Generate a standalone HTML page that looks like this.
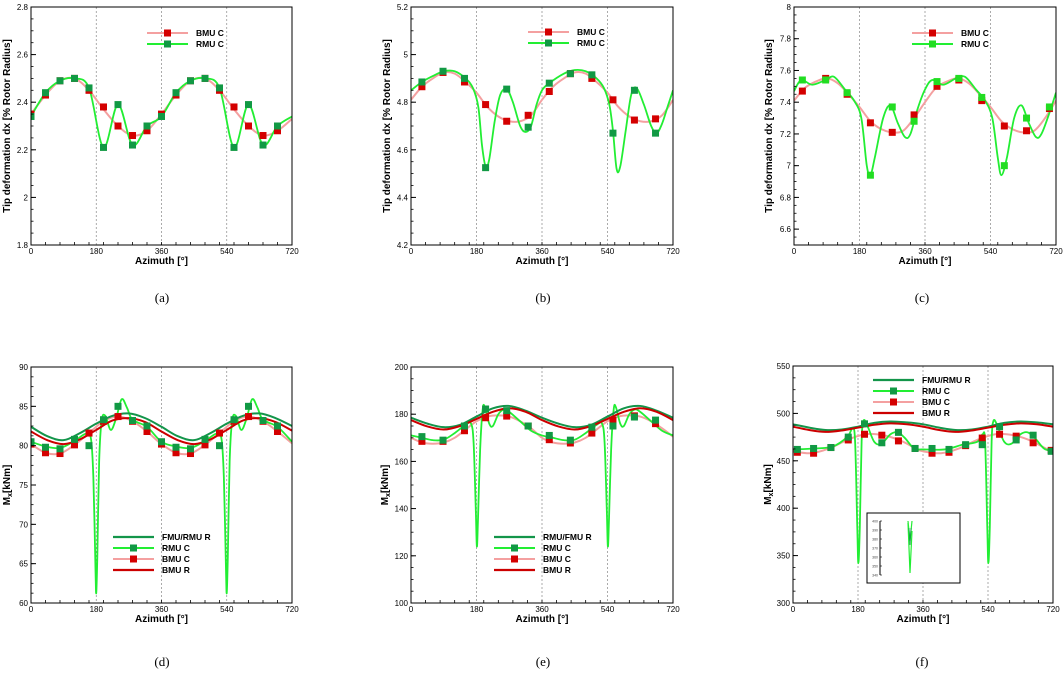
<!DOCTYPE html>
<html><head><meta charset="utf-8"><style>
html,body{margin:0;padding:0;background:#fff;}
svg{display:block;font-family:"Liberation Sans",Arial,sans-serif;}
.tk{font-size:8px;fill:#000;}
.ttl{font-size:10px;font-weight:bold;fill:#000;}
.lg{font-size:8.5px;font-weight:bold;fill:#000;}
.cap{font-family:"Liberation Serif",serif;font-size:13px;fill:#000;}
</style></head><body>
<svg id="fig" width="1063" height="673" viewBox="0 0 1063 673" xmlns="http://www.w3.org/2000/svg"></svg>
<script>
// ---------- data ----------
// (a)
const aBmuMkAz=[0,40,80,120,160,200,240,280,320,360,400,440,480,520,560,600,640,680];
const aBmuMk=[2.35,2.43,2.49,2.50,2.45,2.38,2.30,2.26,2.28,2.35,2.43,2.49,2.50,2.45,2.38,2.30,2.26,2.28];
const aRmuMk=[2.34,2.44,2.49,2.50,2.46,2.21,2.39,2.22,2.30,2.34,2.44,2.49,2.50,2.46,2.21,2.39,2.22,2.30];
const aLineAz=[0,40,80,120,160,200,240,280,320,360,400,440,480,520,560,600,640,680,720];
const aBmuLine=[2.35,2.43,2.49,2.50,2.45,2.37,2.30,2.26,2.28,2.35,2.43,2.49,2.50,2.45,2.37,2.30,2.26,2.28,2.33];
const aRmuLine=[2.34,2.44,2.49,2.50,2.46,2.21,2.39,2.22,2.30,2.34,2.44,2.49,2.50,2.46,2.21,2.39,2.22,2.30,2.34];
// (b)
const bMkAz=[30,88,147,205,263,322,380,438,497,555,614,672];
const bBmuMk=[4.865,4.925,4.885,4.79,4.72,4.745,4.845,4.92,4.90,4.81,4.725,4.73];
const bRmuMk=[4.885,4.93,4.90,4.525,4.855,4.695,4.88,4.92,4.915,4.67,4.85,4.67];
const bBmuAz=[0,30,60,90,120,150,180,210,240,270,300,330,360,390,420,450,480,510,540,570,600,630,660,690,720];
const bBmuLine=[4.81,4.865,4.90,4.925,4.92,4.885,4.84,4.78,4.74,4.72,4.72,4.745,4.81,4.865,4.90,4.925,4.92,4.885,4.84,4.78,4.74,4.72,4.72,4.745,4.81];
const bRmuAz=[0,30,60,90,120,150,170,185,195,205,215,230,245,263,280,300,315,330,345,360,380,420,450,480,510,530,545,555,565,575,590,605,620,640,660,675,690,705,720];
const bRmuLine=[4.85,4.885,4.91,4.93,4.93,4.90,4.86,4.78,4.62,4.53,4.56,4.72,4.83,4.855,4.80,4.70,4.675,4.70,4.79,4.85,4.88,4.92,4.935,4.93,4.90,4.86,4.79,4.68,4.52,4.53,4.68,4.83,4.86,4.79,4.70,4.67,4.71,4.78,4.85];
// (c)
const cMkAz=[23,87,146,210,270,330,393,453,516,578,639,702];
const cBmuMk=[7.47,7.55,7.45,7.27,7.21,7.32,7.50,7.54,7.41,7.25,7.22,7.36];
const cRmuMk=[7.54,7.54,7.46,6.94,7.37,7.28,7.53,7.55,7.43,7.00,7.30,7.37];
const cBmuAz=[0,30,60,90,120,150,180,210,240,270,300,330,360,390,420,450,480,510,540,570,600,630,660,690,720];
const cBmuLine=[7.41,7.49,7.53,7.55,7.52,7.45,7.37,7.28,7.23,7.21,7.22,7.30,7.40,7.49,7.53,7.55,7.52,7.45,7.37,7.28,7.23,7.21,7.22,7.30,7.41];
const cRmuAz=[0,20,50,87,110,140,165,185,200,210,222,245,265,285,305,320,340,360,380,410,445,470,500,525,545,560,570,585,605,625,645,665,680,700,720];
const cRmuLine=[7.47,7.54,7.51,7.54,7.56,7.48,7.41,7.30,7.00,6.94,7.05,7.30,7.38,7.27,7.18,7.20,7.36,7.48,7.54,7.51,7.55,7.56,7.48,7.41,7.30,7.05,6.94,7.05,7.30,7.38,7.27,7.18,7.20,7.32,7.46];
// (d)
const dMkAz=[0,40,80,120,160,200,240,280,320,360,400,440,480,520,560,600,640,680];
const dBmuMk=[80.2,79.1,79.0,80.1,81.6,83.1,83.7,83.1,81.8,80.2,79.1,79.0,80.1,81.6,83.1,83.7,83.1,81.8];
const dRmuMk=[80.5,79.8,79.6,80.8,80.0,83.3,85.0,83.2,82.5,80.5,79.8,79.6,80.8,80.0,83.3,85.0,83.2,82.5];
const dRAz=[0,45,90,135,180,225,270,315,360,405,450,495,540,585,630,675,720];
const dFmuR=[82.4,81.2,80.7,81.6,82.8,83.8,84.1,83.5,82.4,81.2,80.7,81.6,82.8,83.8,84.1,83.5,82.5];
const dBmuR=[81.8,80.7,80.2,80.8,82.0,83.2,83.5,83.0,81.8,80.7,80.2,80.8,82.0,83.2,83.5,83.0,81.9];
const dBmuAz=[0,40,80,120,160,200,240,280,320,360,400,440,480,520,560,600,640,680,720];
const dBmuLine=[80.2,79.1,79.0,80.1,81.6,83.1,83.7,83.1,81.8,80.2,79.1,79.0,80.1,81.6,83.1,83.7,83.1,81.8,80.3];
const dRmuAz=[0,40,80,120,150,165,172,178,180,183,188,195,205,220,235,250,265,280,320,360,400,440,480,510,525,532,538,540,543,548,555,565,580,595,610,625,640,680,720];
const dRmuLine=[80.5,79.9,79.7,80.6,81.5,81.0,76,64,61.3,66,78,83.2,83.8,82.0,83.5,85.9,84.8,83.3,82.4,80.5,79.9,79.7,80.6,81.5,81.0,76,64,61.3,66,78,83.2,83.8,82.0,83.5,85.9,84.8,83.3,82.4,80.5];
// (e)
const eMkAz=[30,88,147,205,263,322,380,438,497,555,614,672];
const eBmuMk=[168.5,168.5,173,178.5,179.2,175,169.2,167.8,172,177.5,179.3,176];
const eRmuMk=[170.5,169,175,182.2,181.5,175,171,169,174.5,175,178.8,177.5];
const eRAz=[0,45,90,135,180,225,270,315,360,405,450,495,540,585,630,675,720];
const eFmuR=[178.5,176,174.5,175.5,179,182.5,183.5,181.5,178.5,176,174.5,175.5,179,182.5,183.5,181.5,178.5];
const eBmuR=[177.5,174.8,173.5,175,178,181,182.5,181,177.5,174.8,173.5,175,178,181,182.5,181,177.5];
const eBmuAz=[0,30,60,90,120,150,180,210,240,270,300,330,360,390,420,450,480,510,540,570,600,630,660,690,720];
const eBmuLine=[170,168,167.5,168,170,173.5,177,179,179.5,179,177,174,170,168,167.5,168,170,173.5,177,179,179.5,179,177,174,170.5];
const eRmuAz=[0,30,60,90,120,150,165,172,178,181,184,190,197,203,215,225,240,255,270,300,330,360,390,420,450,480,510,525,532,538,541,544,550,557,563,575,585,600,615,630,660,690,720];
const eRmuLine=[171,170,169,169.2,172,175.5,176,168,140,124,135,165,182,183,176,175,180,182,181,177,173,171,170,169,169.2,172,175.5,176,168,140,124,135,165,182,183,176,175,180,182,181,177,173,171];
// (f)
const fMkAz=[12,57,105,153,198,246,292,338,385,432,478,524,572,618,665,715];
const fBmuMk=[459,458,464,472,478,477,471,463,458,459,466,474,478,476,469,461];
const fRmuMk=[462,463,464,475,489,469,480,463,463,462,467,467,486,472,477,460];
const fRAz=[0,45,90,135,180,225,270,315,360,405,450,495,540,585,630,675,720];
const fFmuR=[488.5,485,482.5,483,486,490,491.5,490.5,488.5,485,482.5,483,486,490,491.5,490.5,488.5];
const fBmuR=[486,482.5,480.5,482,485,488,489.5,488.5,486,482.5,480.5,482,485,488,489.5,488.5,486];
const fBmuAz=[0,50,100,150,200,250,300,340,360,410,460,510,560,610,660,700,720];
const fBmuLine=[460,458,463,472,478,477,471,463,460,458,463,472,478,477,471,463,460];
const fRmuAz=[0,60,110,150,165,172,178,181,185,190,195,205,225,245,270,290,310,335,360,420,470,510,525,532,538,541,545,550,555,565,585,605,630,650,670,695,720];
const fRmuLine=[462,463,465,475,484,470,380,342,380,470,492,488,470,468,478,480,474,463,462,462,467,470,478,470,380,342,380,470,492,488,470,468,478,480,474,463,460];

// ---------- drawing ----------
const NS="http://www.w3.org/2000/svg";
const svg=document.getElementById('fig');
function mk(tag,attrs,parent){const e=document.createElementNS(NS,tag);for(const k in attrs)e.setAttribute(k,attrs[k]);(parent||svg).appendChild(e);return e;}
function smoothPath(pts){
  let d='M'+pts[0][0].toFixed(2)+','+pts[0][1].toFixed(2);
  for(let i=0;i<pts.length-1;i++){
    const p0=pts[Math.max(0,i-1)],p1=pts[i],p2=pts[i+1],p3=pts[Math.min(pts.length-1,i+2)];
    const c1x=p1[0]+(p2[0]-p0[0])/6,c1y=p1[1]+(p2[1]-p0[1])/6;
    const c2x=p2[0]-(p3[0]-p1[0])/6,c2y=p2[1]-(p3[1]-p1[1])/6;
    d+=' C'+c1x.toFixed(2)+','+c1y.toFixed(2)+' '+c2x.toFixed(2)+','+c2y.toFixed(2)+' '+p2[0].toFixed(2)+','+p2[1].toFixed(2);
  }
  return d;
}
const COL={bmuC:'#f4a0a0',bmuMk:'#d40000',rmuC:'#22ee33',rmuMk:'#119944',fmuR:'#13954a',bmuR:'#cc0000'};

function panel(P){
  const g=mk('g',{});
  
  
  const X=a=>P.x0+(a/720)*(P.x1-P.x0);
  const Y=v=>P.y1-(v-P.ymin)/(P.ymax-P.ymin)*(P.y1-P.y0);
  [180,360,540].forEach(a=>{
    const l=mk('line',{x1:X(a),x2:X(a),y1:P.y0,y2:P.y1,stroke:'#888','stroke-width':0.7,'stroke-dasharray':'2,2'},g);
    
    
  });
  const clip='clip-'+P.name;
  const cp=mk('clipPath',{id:clip},g);mk('rect',{x:P.x0,y:P.y0,width:P.x1-P.x0,height:P.y1-P.y0},cp);
  const sg=mk('g',{'clip-path':'url(#'+clip+')'},g);
  P.series.forEach(s=>{
    const p=mk('path',{d:smoothPath(s.az.map((a,i)=>[X(a),Y(s.v[i])])),fill:'none',stroke:s.color,'stroke-width':s.w,'stroke-linejoin':'round'},sg);
    
    
  });
  P.series.forEach(s=>{
    if(s.mkAz){
      s.mkAz.forEach((a,i)=>{
        const r=mk('rect',{x:X(a)-3.5,y:Y(s.mk[i])-3.5,width:7,height:7,fill:s.mkColor},sg);
        
        
      });
    }
  });
  const fr=mk('rect',{x:P.x0,y:P.y0,width:P.x1-P.x0,height:P.y1-P.y0,fill:'none',stroke:'#000','stroke-width':1},g);
  
  
  for(let a=0;a<=720;a+=40){mk('line',{x1:X(a),x2:X(a),y1:P.y1,y2:P.y1-3,stroke:'#000','stroke-width':0.8},g);}
  [0,180,360,540,720].forEach(a=>{
    const t=mk('text',{x:X(a),y:P.y1+9,'text-anchor':'middle',class:'tk'},g);t.textContent=a;
    
    
  });
  P.yticks.forEach((v,i)=>{
    mk('line',{x1:P.x0,x2:P.x0+5,y1:Y(v),y2:Y(v),stroke:'#000','stroke-width':1},g);
    const t=mk('text',{x:P.x0-3,y:Y(v)+3,'text-anchor':'end',class:'tk'},g);t.textContent=P.ylabels[i];
    
    
  });
  const step=(P.yticks[1]-P.yticks[0])/4;
  for(let v=P.ymin;v<=P.ymax+1e-9;v+=step){mk('line',{x1:P.x0,x2:P.x0+2.5,y1:Y(v),y2:Y(v),stroke:'#000','stroke-width':0.8},g);}
  const xt=mk('text',{x:(P.x0+P.x1)/2,y:P.y1+19,'text-anchor':'middle',class:'ttl'},g);
  xt.textContent='Azimuth [°]';
  
  
  const cy=(P.y0+P.y1)/2;
  const yt=mk('text',{x:P.ytx,y:cy,'text-anchor':'middle',class:'ttl',transform:'rotate(-90 '+P.ytx+' '+cy+')'},g);
  if(P.mx){yt.innerHTML='M<tspan dy="2" font-size="7">x</tspan><tspan dy="-2">[kNm]</tspan>';}
  else yt.textContent='Tip deformation dx [% Rotor Radius]';
  
  
  P.legend.forEach((e,i)=>{
    const ly=P.leg.y+i*P.leg.dy;
    const lg=mk('g',{},g);
    
    
    mk('line',{x1:P.leg.x,x2:P.leg.x+41,y1:ly,y2:ly,stroke:e.color,'stroke-width':e.w},lg);
    if(e.mk) mk('rect',{x:P.leg.x+17,y:ly-3.5,width:7,height:7,fill:e.mk},lg);
    const t=mk('text',{x:P.leg.x+49,y:ly+3,class:'lg'},lg);t.textContent=e.label;
  });
  const c=mk('text',{x:P.cap[0],y:P.cap[1],'text-anchor':'middle',class:'cap'},g);
  c.textContent=P.capText;
  
  
  if(P.inset){
    const ig=mk('g',{},g);
    
    
    mk('rect',{x:867,y:513,width:93,height:70,fill:'#fff',stroke:'#000','stroke-width':1},ig);
    mk('line',{x1:880,x2:880,y1:521,y2:575,stroke:'#000','stroke-width':1},ig);
    ['400','390','380','370','360','350','340'].forEach((s,i)=>{
      const yy=521+i*9;mk('line',{x1:880,x2:882,y1:yy,y2:yy,stroke:'#000','stroke-width':0.6},ig);
      const t=mk('text',{x:878,y:yy+1.5,'text-anchor':'end','font-size':'3.5',fill:'#444'},ig);t.textContent=s;
    });
    mk('path',{d:'M908,521 L910,541 L912,521 M908,523 L910,573 L912,531',fill:'none',stroke:COL.rmuC,'stroke-width':1.2},ig);
    mk('path',{d:'M909,528 L910,545 L911,528',fill:'none',stroke:COL.fmuR,'stroke-width':0.8},ig);
  }
}
const legTip=[{label:'BMU C',color:COL.bmuC,w:2,mk:COL.bmuMk},{label:'RMU C',color:COL.rmuC,w:2,mk:COL.rmuMk}];
const legTipC=[{label:'BMU C',color:COL.bmuC,w:2,mk:COL.bmuMk},{label:'RMU C',color:COL.rmuC,w:2,mk:'#22dd22'}];
function legM(first){return[{label:first,color:COL.fmuR,w:2.2},{label:'RMU C',color:COL.rmuC,w:2,mk:COL.rmuMk},{label:'BMU C',color:COL.bmuC,w:2,mk:COL.bmuMk},{label:'BMU R',color:COL.bmuR,w:2.2}];}
function tipSeries(bAz,bL,rAz,rL,mAzB,bMk,mAzR,rMk,rmkCol){
  return [{id:'bmu-c',az:bAz,v:bL,color:COL.bmuC,w:2,mkAz:mAzB,mk:bMk,mkColor:COL.bmuMk},
          {id:'rmu-c',az:rAz,v:rL,color:COL.rmuC,w:1.8,mkAz:mAzR,mk:rMk,mkColor:rmkCol||COL.rmuMk}];
}
function mSeries(rAz,fR,bR,bAz,bL,rcAz,rcL,mAzB,bMk,mAzR,rMk){
  return [{id:'bmu-c',az:bAz,v:bL,color:COL.bmuC,w:2,mkAz:mAzB,mk:bMk,mkColor:COL.bmuMk},
          {id:'rmu-c',az:rcAz,v:rcL,color:COL.rmuC,w:1.8,mkAz:mAzR,mk:rMk,mkColor:COL.rmuMk},
          {id:'fmu-rmu-r',az:rAz,v:fR,color:COL.fmuR,w:2},
          {id:'bmu-r',az:rAz,v:bR,color:COL.bmuR,w:2}];
}
panel({name:'panel-a',x0:31,x1:292,y0:7,y1:245,ymin:1.8,ymax:2.8,yticks:[1.8,2,2.2,2.4,2.6,2.8],ylabels:['1.8','2','2.2','2.4','2.6','2.8'],ytx:10,
  series:tipSeries(aLineAz,aBmuLine,aLineAz,aRmuLine,aBmuMkAz,aBmuMk,aBmuMkAz,aRmuMk),legend:legTip,leg:{x:147,y:33,dy:11},cap:[162,302],capText:'(a)'});
panel({name:'panel-b',x0:411,x1:673,y0:7,y1:245,ymin:4.2,ymax:5.2,yticks:[4.2,4.4,4.6,4.8,5,5.2],ylabels:['4.2','4.4','4.6','4.8','5','5.2'],ytx:390,
  series:tipSeries(bBmuAz,bBmuLine,bRmuAz,bRmuLine,bMkAz,bBmuMk,bMkAz,bRmuMk),legend:legTip,leg:{x:528,y:32,dy:11},cap:[543,302],capText:'(b)'});
panel({name:'panel-c',x0:794,x1:1056,y0:7,y1:245,ymin:6.5,ymax:8,yticks:[6.6,6.8,7,7.2,7.4,7.6,7.8,8],ylabels:['6.6','6.8','7','7.2','7.4','7.6','7.8','8'],ytx:772,
  series:tipSeries(cBmuAz,cBmuLine,cRmuAz,cRmuLine,cMkAz,cBmuMk,cMkAz,cRmuMk,'#22dd22'),legend:legTipC,leg:{x:912,y:33,dy:11},cap:[922,302],capText:'(c)'});
panel({name:'panel-d',x0:31,x1:292,y0:367,y1:603,ymin:60,ymax:90,yticks:[60,65,70,75,80,85,90],ylabels:['60','65','70','75','80','85','90'],ytx:10,mx:true,
  series:mSeries(dRAz,dFmuR,dBmuR,dBmuAz,dBmuLine,dRmuAz,dRmuLine,dMkAz,dBmuMk,dMkAz,dRmuMk),legend:legM('FMU/RMU R'),leg:{x:113,y:537,dy:11},cap:[162,666],capText:'(d)'});
panel({name:'panel-e',x0:411,x1:673,y0:367,y1:603,ymin:100,ymax:200,yticks:[100,120,140,160,180,200],ylabels:['100','120','140','160','180','200'],ytx:388,mx:true,
  series:mSeries(eRAz,eFmuR,eBmuR,eBmuAz,eBmuLine,eRmuAz,eRmuLine,eMkAz,eBmuMk,eMkAz,eRmuMk),legend:legM('RMU/FMU R'),leg:{x:494,y:537,dy:11},cap:[543,666],capText:'(e)'});
panel({name:'panel-f',x0:793,x1:1053,y0:366,y1:603,ymin:300,ymax:550,yticks:[300,350,400,450,500,550],ylabels:['300','350','400','450','500','550'],ytx:771,mx:true,inset:true,
  series:mSeries(fRAz,fFmuR,fBmuR,fBmuAz,fBmuLine,fRmuAz,fRmuLine,fMkAz,fBmuMk,fMkAz,fRmuMk),legend:legM('FMU/RMU R'),leg:{x:873,y:380,dy:11},cap:[922,666],capText:'(f)'});
</script>
</body></html>
